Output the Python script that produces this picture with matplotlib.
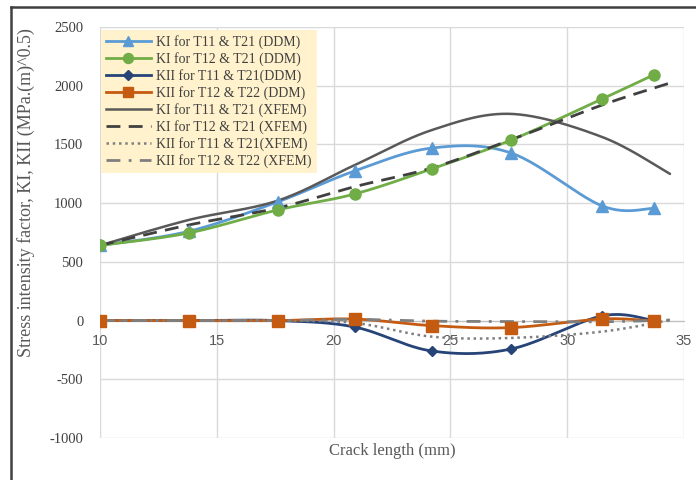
import numpy as np
import matplotlib
matplotlib.use('agg')
import matplotlib.pyplot as plt
from matplotlib.lines import Line2D

# crack length positions (mm)
x_ddm = [10, 13.8, 17.6, 20.9, 24.2, 27.6, 31.5, 33.7]
x_xfem = [10, 13.8, 17.6, 20.9, 24.2, 27.6, 31.5, 34.4]

# DDM results
ki_t11_ddm = [640, 760, 1010, 1274, 1469, 1427, 976, 955]
ki_t12_ddm = [640, 746, 942, 1078, 1292, 1537, 1888, 2092]
kii_t11_ddm = [0, 0, 0, -55, -259, -242, 40, 0]
kii_t12_ddm = [0, 0, 0, 13, -43, -60, 14, -5]

# XFEM results
ki_t11_xfem = [640, 857, 1021, 1324, 1622, 1760, 1563, 1249]
ki_t12_xfem = [640, 814, 959, 1140, 1300, 1540, 1836, 2023]
kii_t11_xfem = [0, 0, 0, -20, -137, -148, -94, 5]
kii_t12_xfem = [0, 0, 0, 10, -5, -8, -10, 5]

labels = ['KI for T11 & T21 (DDM)', 'KI for T12 & T21 (DDM)',
          'KII for T11 & T21(DDM)', 'KII for T12 & T22 (DDM)',
          'KI for T11 & T21 (XFEM)', 'KI for T12 & T21 (XFEM)',
          'KII for T11 & T21(XFEM)', 'KII for T12 & T22 (XFEM)']


def smooth(x, y, n=30):
    # excel style smoothed line (catmull-rom bezier)
    x = np.asarray(x, float)
    y = np.asarray(y, float)
    p = np.column_stack([x, y])
    pp = np.vstack([p[0], p, p[-1]])
    t = np.linspace(0, 1, n)[:, None]
    out = []
    for i in range(len(p) - 1):
        p0, p1, p2, p3 = pp[i], pp[i + 1], pp[i + 2], pp[i + 3]
        c1 = p1 + (p2 - p0) / 6
        c2 = p2 - (p3 - p1) / 6
        seg = ((1 - t) ** 3) * p1 + 3 * ((1 - t) ** 2) * t * c1 + 3 * (1 - t) * t ** 2 * c2 + t ** 3 * p2
        out.append(seg if i == 0 else seg[1:])
    out = np.vstack(out)
    return out[:, 0], out[:, 1]


plt.rcParams['font.family'] = ['Liberation Serif', 'DejaVu Serif']
plt.rcParams['axes.unicode_minus'] = False

fig = plt.figure(figsize=(6.96, 4.8), dpi=100)
ax = fig.add_axes([100 / 696, 1 - 438 / 480, 584 / 696, 411 / 480])

blue = '#5B9BD5'
green = '#70AD47'
navy = '#264478'
orange = '#C55A11'

series = [
    (x_ddm, ki_t11_ddm, dict(color=blue, marker='^', ms=8, lw=2, ls='-')),
    (x_ddm, ki_t12_ddm, dict(color=green, marker='o', ms=8, lw=2, ls='-')),
    (x_ddm, kii_t11_ddm, dict(color=navy, marker='D', ms=5.5, lw=2, ls='-')),
    (x_ddm, kii_t12_ddm, dict(color=orange, marker='s', ms=8, lw=2, ls='-')),
    (x_xfem, ki_t11_xfem, dict(color='#595959', lw=1.8, ls='-')),
    (x_xfem, ki_t12_xfem, dict(color='#404040', lw=2, ls=(0, (5, 3)))),
    (x_xfem, kii_t11_xfem, dict(color='#7F7F7F', lw=1.8, ls=(0, (1, 1.5)))),
    (x_xfem, kii_t12_xfem, dict(color='#7F7F7F', lw=2, ls=(0, (5, 3, 1, 3)))),
]

handles = []
for (xs, ys, st), lab in zip(series, labels):
    sx, sy = smooth(xs, ys)
    marker = st.pop('marker', None)
    ms = st.pop('ms', 0)
    ax.plot(sx, sy, zorder=3, solid_capstyle='round', **st)
    if marker:
        ax.plot(xs, ys, ls='none', marker=marker, ms=ms, color=st['color'], zorder=4)
    handles.append(Line2D([], [], marker=marker, ms=ms * 0.9 if marker else 0,
                          **st))

ax.set_xlim(10, 35)
ax.set_ylim(-1000, 2500)
ax.set_xticks(range(10, 36, 5))
ax.set_yticks(range(-1000, 2501, 500))
ax.grid(True, color='#D9D9D9', lw=1, zorder=0)
ax.set_axisbelow(True)

for s in ['top', 'right', 'left']:
    ax.spines[s].set_visible(False)
ax.spines['bottom'].set_position(('data', 0))
ax.spines['bottom'].set_color('#BFBFBF')
ax.spines['bottom'].set_zorder(1)
ax.tick_params(length=0)
ax.tick_params(axis='x', labelsize=10.5, labelcolor='#595959', pad=10)
for t in ax.get_xticklabels():
    t.set_family(['Liberation Sans', 'DejaVu Sans'])
ax.tick_params(axis='y', labelsize=10.5, labelcolor='#404040', pad=12)

ax.set_ylabel('Stress intensity factor, KI, KII (MPa.(m)^0.5)', fontsize=13,
              color='#595959')
ax.yaxis.set_label_coords(-0.112, 0.596)
fig.text(392 / 696, 1 - 451 / 480, 'Crack length (mm)', fontsize=12,
         color='#595959', ha='center', va='center')

leg = ax.legend(handles, labels, loc='upper left', bbox_to_anchor=(0.0, 0.995),
                fontsize=10, handlelength=3.2, labelspacing=0.22,
                borderpad=0.35, handletextpad=0.4, fancybox=False,
                framealpha=1, borderaxespad=0.1)
leg.get_frame().set_facecolor('#FFF2CC')
leg.get_frame().set_edgecolor('none')
for t in leg.get_texts():
    t.set_color('#404040')

# outer border of the figure crop
fig.add_artist(Line2D([11 / 696, 11 / 696], [0, 1 - 7 / 480], color='#404040', lw=1.8))
fig.add_artist(Line2D([11 / 696, 1], [1 - 7 / 480, 1 - 7 / 480], color='#404040', lw=1.8))

fig.savefig('out.png', dpi=100)
